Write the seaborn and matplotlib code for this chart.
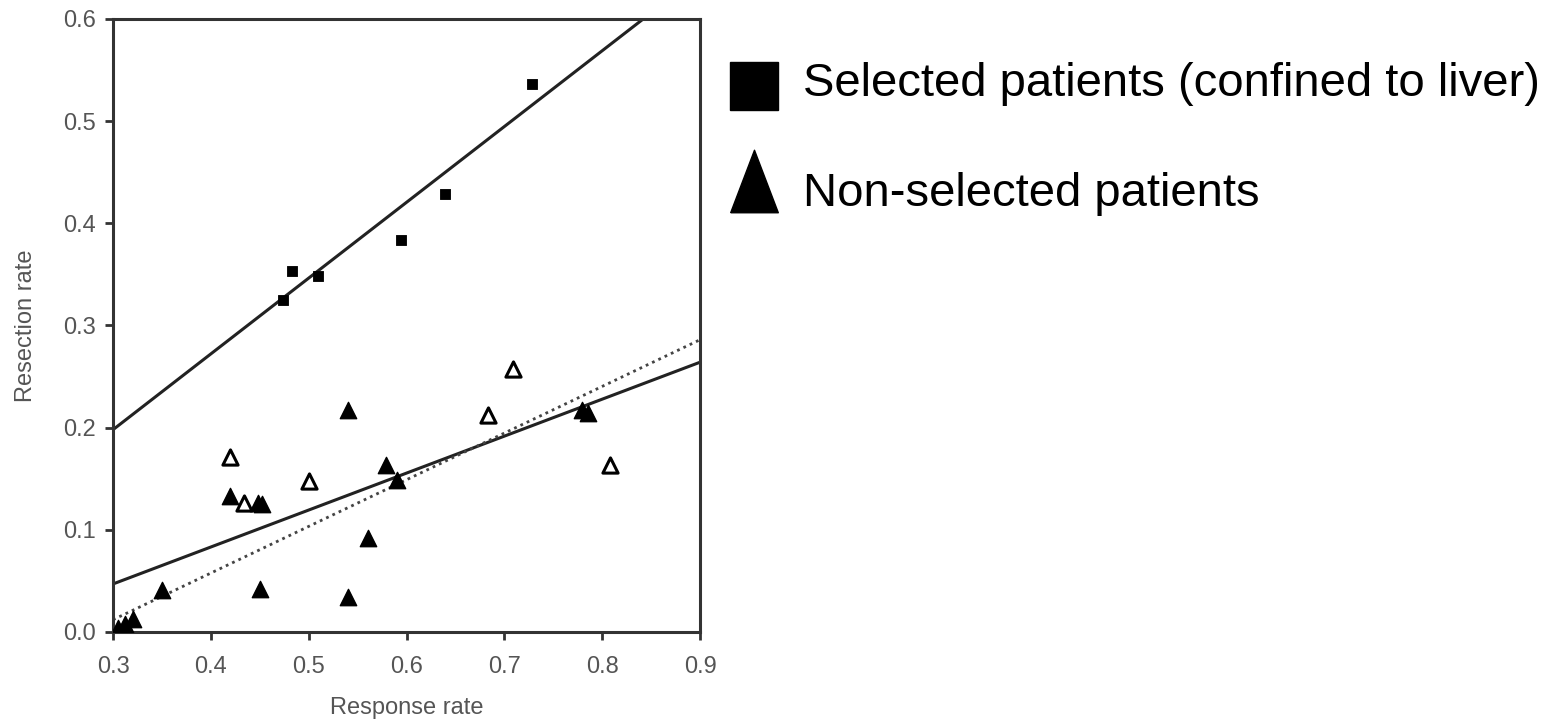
import numpy as np
import pandas as pd
import matplotlib
matplotlib.use("Agg")
import matplotlib.pyplot as plt
from matplotlib.lines import Line2D
import seaborn as sns

# selected patients (squares)
sel_x = [0.474, 0.483, 0.510, 0.594, 0.639, 0.728]
sel_y = [0.325, 0.353, 0.348, 0.384, 0.429, 0.536]

# non-selected patients, filled triangles
ns_x = [0.305, 0.312, 0.320, 0.350, 0.420, 0.448, 0.452, 0.450, 0.540, 0.540, 0.561, 0.579, 0.590, 0.779, 0.786]
ns_y = [0.004, 0.008, 0.013, 0.041, 0.133, 0.126, 0.125, 0.042, 0.217, 0.034, 0.092, 0.163, 0.149, 0.217, 0.214]

# non-selected patients, open triangles
ns_open_x = [0.420, 0.434, 0.500, 0.683, 0.709, 0.808]
ns_open_y = [0.171, 0.126, 0.148, 0.212, 0.257, 0.163]

# fitted lines
fit_x = [0.3, 0.9]
sel_fit_y = [0.198, 0.643]
ns_fit_y = [0.047, 0.264]
ns_dot_y = [0.012, 0.286]

labels = ['Selected patients (confined to liver)', 'Non-selected patients']

sns.set_style("ticks")
plt.rcParams['font.family'] = ['Liberation Sans', 'DejaVu Sans']

fig = plt.figure(figsize=(15.57, 7.27), dpi=100)
ax = fig.add_axes([0.0726, 0.1307, 0.377, 0.8433])

sns.lineplot(x=fit_x, y=sel_fit_y, ax=ax, color='#222222', lw=2.2)
sns.lineplot(x=fit_x, y=ns_fit_y, ax=ax, color='#222222', lw=2.2)
sns.lineplot(x=fit_x, y=ns_dot_y, ax=ax, color='#444444', lw=2, linestyle=(0, (1, 1.5)))

sns.scatterplot(x=sel_x, y=sel_y, ax=ax, marker='s', s=60, color='black', edgecolor='black', zorder=5)
sns.scatterplot(x=ns_x, y=ns_y, ax=ax, marker='^', s=140, color='black', edgecolor='black', zorder=5)
sns.scatterplot(x=ns_open_x, y=ns_open_y, ax=ax, marker='^', s=120, facecolor='white',
                edgecolor='black', linewidth=2.2, zorder=5)

ax.set_xlim(0.3, 0.9)
ax.set_ylim(0.0, 0.6)
ax.set_xticks(np.arange(0.3, 0.91, 0.1))
ax.set_yticks(np.arange(0.0, 0.61, 0.1))
ax.set_xticklabels([f"{v:.1f}" for v in np.arange(0.3, 0.91, 0.1)])
ax.set_yticklabels([f"{v:.1f}" for v in np.arange(0.0, 0.61, 0.1)])
for s in ax.spines.values():
    s.set_linewidth(2.2)
    s.set_color('#333333')
ax.tick_params(direction='out', length=6, width=2, color='#333333', labelsize=17, labelcolor='#555555')
ax.tick_params(axis='x', pad=11)
ax.tick_params(axis='y', pad=6)
ax.set_xlabel('Response rate', fontsize=17, color='#555555', labelpad=14)
ax.set_ylabel('Resection rate', fontsize=17, color='#555555', labelpad=19)

# legend drawn by hand in figure coordinates
tall_tri = [(-24, -31.5), (24, -31.5), (0, 31.5), (-24, -31.5)]
fig.add_artist(Line2D([754 / 1557], [1 - 86 / 727], marker='s', markersize=34.5, color='black',
                      linestyle='none', transform=fig.transFigure))
fig.add_artist(Line2D([754 / 1557], [1 - 181 / 727], marker=tall_tri, markersize=45, color='black',
                      linestyle='none', transform=fig.transFigure))
fig.text(803 / 1557, 1 - 84 / 727, labels[0], fontsize=34, va='center', ha='left', color='black')
fig.text(803 / 1557, 1 - 194 / 727, labels[1], fontsize=34, va='center', ha='left', color='black')

fig.savefig('out.png', dpi=100, facecolor='white')
